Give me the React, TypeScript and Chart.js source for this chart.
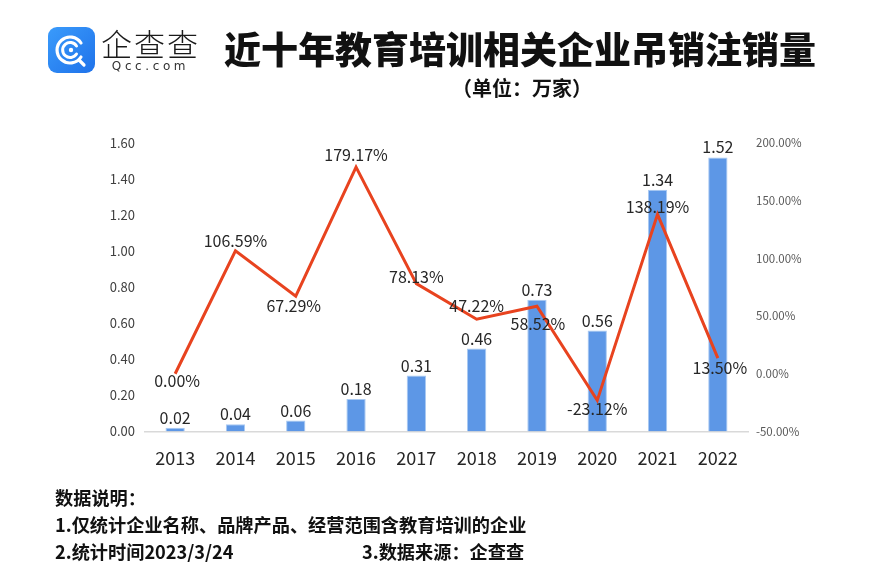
import React, { useEffect, useRef } from "react";
import { Chart, registerables } from "chart.js";

Chart.register(...registerables);

const years = ["2013", "2014", "2015", "2016", "2017", "2018", "2019", "2020", "2021", "2022"];
const revokedCount = [0.02, 0.04, 0.06, 0.18, 0.31, 0.46, 0.73, 0.56, 1.34, 1.52];
const growthRate = [0.0, 106.59, 67.29, 179.17, 78.13, 47.22, 58.52, -23.12, 138.19, 13.5];
const leftTicks = [0, 0.2, 0.4, 0.6, 0.8, 1.0, 1.2, 1.4, 1.6];
const rightTicks = [-50, 0, 50, 100, 150, 200];

const FONT = "'Noto Sans CJK SC', 'Noto Sans', sans-serif";

// vertical label offsets for the growth-rate labels (style only)
const lineLabelDy = [7, -10, 10, -12, -7, -13, 18, 9, -7, 10];
const lineLabelDx = [2, 0, -2, 0, 0, 0, 1, 0, 0, 2];

const labelPlugin = {
  id: "valueLabels",
  afterDatasetsDraw(chart: any) {
    const ctx = chart.ctx;
    ctx.save();
    ctx.font = `16px ${FONT}`;
    ctx.fillStyle = "#262626";
    ctx.textAlign = "center";
    ctx.textBaseline = "middle";
    const barMeta = chart.getDatasetMeta(1);
    barMeta.data.forEach((el: any, i: number) => {
      ctx.fillText(revokedCount[i].toFixed(2), el.x, el.y - 10);
    });
    const lineMeta = chart.getDatasetMeta(0);
    lineMeta.data.forEach((el: any, i: number) => {
      ctx.fillText(growthRate[i].toFixed(2) + "%", el.x + lineLabelDx[i], el.y + lineLabelDy[i]);
    });
    ctx.restore();
  },
};

function Logo() {
  return (
    <div style={{ position: "absolute", left: 48, top: 26, display: "flex", alignItems: "center" }}>
      <svg width="47" height="46" viewBox="0 0 47 46">
        <defs>
          <linearGradient id="lg" x1="0" y1="0" x2="1" y2="1">
            <stop offset="0" stopColor="#3a9bfb" />
            <stop offset="1" stopColor="#1f72ea" />
          </linearGradient>
        </defs>
        <rect x="0" y="0" width="47" height="46" rx="9" fill="url(#lg)" />
        <path d="M33 30 A13 13 0 1 1 33 16" fill="none" stroke="#fff" strokeWidth="3.2" strokeLinecap="round" />
        <path d="M28.5 27 A7.5 7.5 0 1 1 28.5 19" fill="none" stroke="#fff" strokeWidth="3" strokeLinecap="round" />
        <circle cx="23" cy="23" r="2.2" fill="#fff" />
        <path d="M31 33 L36 38" stroke="#fff" strokeWidth="3.2" strokeLinecap="round" />
      </svg>
      <div style={{ marginLeft: 6, display: "flex", flexDirection: "column", alignItems: "center" }}>
        <div style={{ fontFamily: FONT, fontSize: 31, fontWeight: 300, color: "#1a1a1a", lineHeight: "33px", letterSpacing: 2 }}>企查查</div>
        <div style={{ fontFamily: "'DejaVu Sans', sans-serif", fontSize: 12, color: "#333", lineHeight: "14px", letterSpacing: 3.6, marginTop: 0 }}>Qcc.com</div>
      </div>
    </div>
  );
}

export default function App() {
  const ref = useRef<HTMLCanvasElement | null>(null);
  useEffect(() => {
    if (!ref.current) return;
    const chart = new Chart(ref.current, {
      type: "bar",
      data: {
        labels: years,
        datasets: [
          {
            type: "line",
            label: "增长率",
            data: growthRate,
            yAxisID: "y1",
            borderColor: "#e8431f",
            borderWidth: 3,
            pointRadius: 0,
            tension: 0,
            order: 0,
          } as any,
          {
            type: "bar",
            label: "吊销注销量",
            data: revokedCount,
            yAxisID: "y",
            backgroundColor: "#5d97e6",
            borderColor: "#a9c9f2",
            borderWidth: 1,
            barPercentage: 0.32,
            categoryPercentage: 1,
            order: 1,
          },
        ],
      },
      options: {
        responsive: false,
        maintainAspectRatio: false,
        animation: false,
        layout: { padding: { left: 100, right: 73, top: 143, bottom: 110 } },
        plugins: { legend: { display: false }, tooltip: { enabled: false } },
        scales: {
          x: {
            offset: true,
            grid: { display: false },
            border: { display: true, color: "#d9d9d9", width: 1.5 },
            ticks: { font: { size: 18, family: FONT }, color: "#262626", padding: 8 },
          },
          y: {
            position: "left",
            min: 0,
            max: 1.6,
            afterBuildTicks: (s: any) => {
              s.ticks = leftTicks.map((v) => ({ value: v }));
            },
            afterFit: (s: any) => {
              s.width = 45;
            },
            grid: { display: false },
            border: { display: false },
            ticks: {
              font: { size: 13, family: FONT },
              color: "#404040",
              padding: 2,
              callback: (v: any) => Number(v).toFixed(2),
            },
          },
          y1: {
            position: "right",
            min: -50,
            max: 200,
            afterBuildTicks: (s: any) => {
              s.ticks = rightTicks.map((v) => ({ value: v }));
            },
            afterFit: (s: any) => {
              s.width = 60;
            },
            grid: { display: false },
            border: { display: false },
            ticks: {
              font: { size: 11.5, family: FONT },
              color: "#595959",
              padding: 0,
              callback: (v: any) => Number(v).toFixed(2) + "%",
            },
          },
        },
      },
      plugins: [labelPlugin],
    });
    return () => chart.destroy();
  }, []);

  return (
    <div style={{ position: "absolute", left: 0, top: 0, width: 881, height: 587, background: "#fff", overflow: "hidden" }}>
      <canvas ref={ref} width={881} height={587} style={{ position: "absolute", left: 0, top: 0 }} />
      <Logo />
      <div style={{ position: "absolute", left: 220, top: 24, width: 600, textAlign: "center", fontFamily: FONT, fontWeight: 900, fontSize: 37, lineHeight: "48px", color: "#111", whiteSpace: "nowrap" }}>
        近十年教育培训相关企业吊销注销量
      </div>
      <div style={{ position: "absolute", left: 452, top: 74, fontFamily: FONT, fontWeight: 700, fontSize: 20, lineHeight: "28px", color: "#111" }}>
        （单位：万家）
      </div>
      <div style={{ position: "absolute", left: 55, top: 484, fontFamily: FONT, fontWeight: 700, fontSize: 18.2, lineHeight: "27px", color: "#111" }}>
        <div>数据说明：</div>
        <div>1.仅统计企业名称、品牌产品、经营范围含教育培训的企业</div>
        <div style={{ position: "relative" }}>
          2.统计时间2023/3/24
          <span style={{ position: "absolute", left: 307, top: 0, whiteSpace: "nowrap" }}>3.数据来源：企查查</span>
        </div>
      </div>
    </div>
  );
}
